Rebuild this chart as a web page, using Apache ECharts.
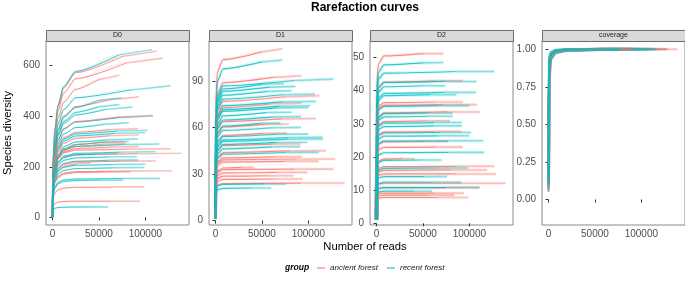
<!DOCTYPE html>
<html>
<head>
<meta charset="utf-8">
<script src="https://cdn.jsdelivr.net/npm/echarts@6/dist/echarts.min.js"></script>
<style>
  html, body { margin: 0; padding: 0; background: #fff; }
  #chart { width: 685px; height: 287px; }
</style>
</head>
<body>
<div id="chart"></div>
<script>
// ---- data ----
const groupNames = ['ancient forest', 'recent forest']
const panelNames = ['D0', 'D1', 'D2', 'coverage']

// 0 = ancient forest, 1 = recent forest
const sampleGroup = [
  0, 0, 0, 0, 0, 0, 0, 0, 0, 0, 0, 0, 0, 0, 0, 0, 0, 0,
  1, 1, 1, 1, 1, 1, 1, 1, 1, 1, 1, 1, 1, 1, 1, 1, 1, 1, 1, 1, 1,
]
// observed sample size (end of interpolated part) and extrapolation end
const readsObs = [
  50000, 62000, 76000, 80000, 92000, 86000, 85000, 28000, 72000, 62000, 54000, 52000, 62000, 63000, 75000, 66000, 57000, 63000,
  50000, 85000, 50000, 58000, 56000, 72000, 73000, 69000, 67000, 55000, 62000, 48000, 62000, 67000, 78000, 78000, 66000, 61000, 75000, 52000, 40000,
]
const readsEnd = [
  72000, 93000, 112000, 119000, 139000, 129000, 127000, 41000, 108000, 93000, 79000, 77000, 92000, 93000, 111000, 99000, 84000, 94000,
  72000, 127000, 74000, 86000, 82000, 107000, 108000, 102000, 100000, 82000, 92000, 70000, 92000, 100000, 115000, 116000, 99000, 91000, 111000, 76000, 60000,
]

const startDiversity = 1
// D0: values at 800, 2500, 6000, 12000, 25000 reads, then at readsObs and readsEnd
const d0Knots = [800, 2500, 6000, 12000, 25000]
const d0Values = [
  [214, 309, 393, 455, 506, 545, 562], [200, 276, 347, 400, 438, 466, 476], [237, 342, 440, 512, 572, 637, 657],
  [227, 328, 422, 491, 548, 611, 630], [139, 182, 218, 238, 248, 252, 253], [110, 140, 162, 175, 181, 183.5, 184],
  [149, 195, 233, 255, 266, 270, 271], [118, 155, 185, 202, 211, 214, 215], [181, 246, 306, 351, 379, 397, 403],
  [156, 212, 261, 293, 313, 323, 326], [140, 190, 234, 263, 280, 289, 292], [144, 195, 240, 270, 288, 297, 300],
  [168, 228, 280, 315, 336, 347, 350], [146, 193, 232, 258, 272, 278, 280], [123, 161, 192, 210, 219, 222, 223],
  [78, 96, 109, 116, 119, 120, 120], [108, 137, 158, 171, 177, 179.5, 180], [45, 54, 60, 63, 64, 64, 64],
  [192, 263, 330, 379, 415, 437, 446], [208, 291, 369, 426, 473, 504, 520], [198, 274, 345, 396, 434, 463, 472],
  [187, 257, 323, 371, 405, 427, 436], [172, 236, 292, 329, 355, 368, 374], [239, 345, 444, 517, 577, 643, 663],
  [180, 245, 305, 349, 377, 395, 401], [165, 224, 275, 310, 330, 341, 344], [161, 218, 268, 302, 322, 332, 335],
  [144, 195, 240, 270, 288, 297, 300], [149, 202, 248, 279, 298, 307, 310], [139, 181, 217, 237, 247, 251, 252],
  [125, 163, 195, 213, 222, 226, 227], [122, 155, 183, 198, 206, 209, 210], [151, 200, 241, 267, 281, 288, 290],
  [95, 120, 139, 148, 152, 154, 154], [114, 146, 171, 186, 193, 196, 197], [132, 173, 206, 226, 235, 239, 240],
  [138, 182, 218, 242, 253, 258, 260], [93, 115, 133, 142, 146, 147, 147], [31, 36, 39, 40, 41, 41, 41],
]
// D1 and D2: values at 300, 2000, 8000 reads, then at readsObs and readsEnd
const d12Knots = [300, 2000, 8000]
const d1Values = [
  [75, 96, 104, 109, 111], [64, 82, 89, 92.5, 93.6], [56, 71, 77, 80, 80.7], [33, 41, 44, 45, 45.2],
  [19, 23, 24, 24.3, 24.3], [30, 37, 39.3, 39.8, 39.8], [25, 31, 33, 33.3, 33.3], [26, 32, 34, 34.4, 34.4],
  [47, 59, 64, 65.7, 66], [52, 67, 73, 75.5, 75.8], [44, 56, 60.5, 62.2, 62.4], [40, 51, 55, 56.3, 56.5],
  [36, 45, 48.5, 49.4, 49.5], [31, 38, 40.6, 41.2, 41.3], [29, 35.5, 37.8, 38.3, 38.3], [24, 29, 30.8, 31.2, 31.2],
  [22.5, 27.2, 28.7, 29, 29], [21, 25.3, 26.6, 26.9, 26.9],
  [70, 90, 98, 102.5, 103.7], [62, 80, 87, 90.5, 91.4], [61, 78, 85, 88, 88.6], [60, 76, 83.5, 86.2, 86.7],
  [58, 74, 81, 83.5, 83.9], [56, 72, 78.5, 81.3, 81.8], [53, 68, 74.3, 76.7, 77], [51, 66, 71.7, 73.9, 74.2],
  [50, 65, 70.6, 72.8, 73.1], [48, 62, 67.7, 69.8, 70], [46, 60, 65, 67, 67.2], [44, 56.5, 61, 62.8, 63],
  [42, 54, 58.3, 60, 60.2], [40, 50.5, 54.3, 55.8, 55.9], [38, 48.5, 52.2, 53.7, 53.8], [38, 47.5, 51.2, 52.6, 52.7],
  [36.5, 45.5, 49.2, 50.5, 50.6], [34.5, 43, 46.4, 47.7, 47.8], [32, 40, 42.9, 44, 44.1], [18.5, 22.4, 23.4, 23.7, 23.7],
  [16.5, 20, 20.9, 21.1, 21.1],
]
const d2Values = [
  [41, 48, 50.5, 51.2, 51.2], [35, 41, 42.5, 43, 43], [27.5, 32, 33.3, 33.6, 33.6], [13.5, 15.5, 16, 16.1, 16.1],
  [10.5, 11.8, 12.1, 12.1, 12.1], [12.8, 14.5, 14.9, 14.9, 14.9], [14.5, 16.6, 17.1, 17.2, 17.2], [16, 18.8, 19.4, 19.5, 19.5],
  [29.5, 34.5, 35.6, 35.8, 35.8], [30, 35.3, 36.4, 36.6, 36.6], [25.5, 29.8, 30.7, 30.9, 30.9], [20.5, 23.8, 24.6, 24.7, 24.7],
  [23, 26.8, 27.5, 27.7, 27.7], [19, 22.2, 22.9, 23, 23], [9.3, 10.5, 10.8, 10.8, 10.8], [6.8, 7.6, 7.8, 7.8, 7.8],
  [7.4, 8.3, 8.5, 8.5, 8.5], [8, 8.9, 9.1, 9.1, 9.1],
  [39, 45.5, 47.8, 48.4, 48.5], [37, 43.5, 45.3, 45.8, 45.8], [34, 39.5, 41.2, 41.5, 41.5], [32, 37, 38.5, 38.8, 38.8],
  [27.5, 32, 33.1, 33.3, 33.3], [32.5, 37.8, 39.2, 39.5, 39.5], [35, 40.8, 42.5, 42.8, 42.8], [22.7, 26.5, 27.3, 27.4, 27.4],
  [22, 25.5, 26.3, 26.4, 26.4], [26.8, 31.1, 32.1, 32.3, 32.3], [25.2, 29.3, 30.2, 30.4, 30.4], [16, 18.4, 19, 19.1, 19.1],
  [24.3, 28.3, 29.2, 29.4, 29.4], [29.2, 34.2, 35.3, 35.5, 35.5], [20.6, 24, 24.8, 24.9, 24.9], [17.8, 20.6, 21.3, 21.4, 21.4],
  [14, 16.1, 16.6, 16.7, 16.7], [10.6, 12, 12.4, 12.4, 12.4], [9.3, 10.5, 10.8, 10.8, 10.8], [12, 13.7, 14.1, 14.1, 14.1],
  [8.4, 9.4, 9.7, 9.7, 9.7],
]
// coverage: values at 1, 500, 2500, 8000, 20000 reads, then at readsObs and readsEnd
const covKnots = [1, 500, 2500, 8000, 20000]
const covValues = [
  [0.06, 0.8, 0.94, 0.98, 0.993, 1, 1], [0.08, 0.83, 0.95, 0.985, 0.995, 1, 1], [0.05, 0.78, 0.93, 0.975, 0.99, 1, 1],
  [0.06, 0.79, 0.935, 0.978, 0.992, 1, 1], [0.12, 0.88, 0.965, 0.99, 0.997, 1, 1], [0.15, 0.9, 0.97, 0.992, 0.998, 1, 1],
  [0.11, 0.87, 0.96, 0.988, 0.996, 1, 1], [0.12, 0.88, 0.96, 0.988, 0.996, 1, 1], [0.07, 0.82, 0.945, 0.982, 0.994, 1, 1],
  [0.09, 0.85, 0.955, 0.985, 0.995, 1, 1], [0.1, 0.86, 0.958, 0.987, 0.996, 1, 1], [0.1, 0.86, 0.957, 0.987, 0.996, 1, 1],
  [0.08, 0.84, 0.952, 0.984, 0.995, 1, 1], [0.1, 0.87, 0.96, 0.988, 0.996, 1, 1], [0.13, 0.89, 0.965, 0.99, 0.997, 1, 1],
  [0.2, 0.92, 0.975, 0.994, 0.998, 1, 1], [0.16, 0.91, 0.972, 0.993, 0.998, 1, 1], [0.25, 0.94, 0.98, 0.995, 0.999, 1, 1],
  [0.07, 0.82, 0.945, 0.982, 0.994, 1, 1], [0.06, 0.8, 0.94, 0.98, 0.993, 1, 1], [0.07, 0.81, 0.942, 0.98, 0.993, 1, 1],
  [0.07, 0.82, 0.945, 0.982, 0.994, 1, 1], [0.08, 0.84, 0.95, 0.984, 0.995, 1, 1], [0.05, 0.77, 0.93, 0.975, 0.99, 1, 1],
  [0.07, 0.82, 0.946, 0.982, 0.994, 1, 1], [0.09, 0.85, 0.953, 0.985, 0.995, 1, 1], [0.09, 0.85, 0.954, 0.985, 0.995, 1, 1],
  [0.1, 0.86, 0.957, 0.987, 0.996, 1, 1], [0.1, 0.86, 0.956, 0.986, 0.996, 1, 1], [0.11, 0.87, 0.96, 0.988, 0.996, 1, 1],
  [0.12, 0.88, 0.962, 0.989, 0.997, 1, 1], [0.12, 0.88, 0.963, 0.99, 0.997, 1, 1], [0.1, 0.86, 0.957, 0.987, 0.996, 1, 1],
  [0.18, 0.92, 0.974, 0.994, 0.998, 1, 1], [0.14, 0.9, 0.968, 0.991, 0.997, 1, 1], [0.12, 0.88, 0.962, 0.989, 0.997, 1, 1],
  [0.11, 0.87, 0.96, 0.988, 0.996, 1, 1], [0.18, 0.92, 0.975, 0.994, 0.998, 1, 1], [0.3, 0.95, 0.985, 0.997, 0.999, 1, 1],
]

// axis ticks
const xTicks = [0, 50000, 100000]
const yTicks = [
  [0, 200, 400, 600],
  [0, 30, 60, 90],
  [0, 10, 20, 30, 40, 50],
  [0, 0.25, 0.5, 0.75, 1],
]

// ---- layout / style ----
const colors = ['#F8766D', '#00BFC4']
const font = '"Liberation Sans", Arial, sans-serif'
const panelLeft = [46, 209, 370, 542]
const panelTop = 41
const panelW = 143
const panelH = 184
const stripH = 11
const xRange = [-7000, 147000]
const yMin = [-30, -2.8, -0.5, -0.17]
const yMax = [697, 116, 55, 1.055]
const ribbonW = [2, 3, 3.5, 3]
const lineW = [1, 1.2, 1.2, 1]

const chart = echarts.init(document.getElementById('chart'), null, { renderer: 'canvas' })

function curve(p, i) {
  let pts, vals
  if (p === 3) {
    vals = covValues[i]
    pts = covKnots.map((k, j) => [k, vals[j]])
  } else {
    const knots = p === 0 ? d0Knots : d12Knots
    vals = [d0Values, d1Values, d2Values][p][i]
    pts = [[1, startDiversity]].concat(knots.map((k, j) => [k, vals[j]]))
  }
  const n = vals.length
  const obs = [readsObs[i], vals[n - 2]]
  return { solid: pts.concat([obs]), tail: [obs, [readsEnd[i], vals[n - 1]]] }
}

const grids = [], xAxes = [], yAxes = [], series = [], graphics = []

// interleave groups so neither colour always sits on top
const nA = sampleGroup.filter((g) => g === 0).length
const order = []
for (let k = 0; k < Math.max(nA, sampleGroup.length - nA); k++) {
  if (k < nA) order.push(k)
  if (nA + k < sampleGroup.length) order.push(nA + k)
}

panelNames.forEach((name, p) => {
  grids.push({
    left: panelLeft[p], top: panelTop, width: panelW, height: panelH,
    show: true, borderColor: '#8a8a8a', borderWidth: 1, backgroundColor: '#fff',
  })
  xAxes.push({
    type: 'value', gridIndex: p, min: xRange[0], max: xRange[1],
    axisLine: { show: false }, splitLine: { show: false },
    axisTick: { show: true, length: 3, customValues: xTicks, lineStyle: { color: '#333' } },
    axisLabel: { customValues: xTicks, color: '#4d4d4d', fontSize: 10, fontFamily: font, margin: 4, formatter: (v) => String(v) },
  })
  yAxes.push({
    type: 'value', gridIndex: p, min: yMin[p], max: yMax[p],
    axisLine: { show: false }, splitLine: { show: false },
    axisTick: { show: true, length: 3, customValues: yTicks[p], lineStyle: { color: '#333' } },
    axisLabel: {
      customValues: yTicks[p], color: '#4d4d4d', fontSize: 10, fontFamily: font, margin: 6,
      formatter: (v) => (p === 3 ? v.toFixed(2) : String(v)),
    },
  })

  const base = { type: 'line', xAxisIndex: p, yAxisIndex: p, showSymbol: false, silent: true, smooth: 0.25, smoothMonotone: 'x', animation: false }
  // faint band (confidence ribbon look)
  order.forEach((i) => {
    const c = curve(p, i)
    series.push(Object.assign({}, base, {
      name: groupNames[sampleGroup[i]], z: 1,
      data: c.solid.concat(c.tail.slice(1)),
      lineStyle: { color: colors[sampleGroup[i]], width: ribbonW[p], opacity: 0.12 },
    }))
  })
  // extrapolated tails
  order.forEach((i) => {
    const c = curve(p, i)
    series.push(Object.assign({}, base, {
      name: groupNames[sampleGroup[i]], z: 2, smooth: false, data: c.tail,
      lineStyle: { color: colors[sampleGroup[i]], width: lineW[p] + 0.4, opacity: 0.4 },
    }))
  })
  // interpolated part
  order.forEach((i) => {
    const c = curve(p, i)
    series.push(Object.assign({}, base, {
      name: groupNames[sampleGroup[i]], z: 3, data: c.solid,
      lineStyle: { color: colors[sampleGroup[i]], width: lineW[p], opacity: 0.8 },
    }))
  })

  // facet strip
  graphics.push({
    type: 'rect', left: panelLeft[p], top: panelTop - stripH, silent: true,
    shape: { width: panelW, height: stripH },
    style: { fill: '#d9d9d9', stroke: '#6b6b6b', lineWidth: 1 },
  })
  graphics.push({
    type: 'text', x: panelLeft[p] + panelW / 2, y: panelTop - stripH / 2, silent: true,
    style: { text: name, font: '7px ' + font, fill: '#1a1a1a', textAlign: 'center', textVerticalAlign: 'middle' },
  })
})

// titles
graphics.push({
  type: 'text', x: 365, y: 8, silent: true,
  style: { text: 'Rarefaction curves', font: 'bold 12px ' + font, fill: '#000', textAlign: 'center', textVerticalAlign: 'middle' },
})
graphics.push({
  type: 'text', x: 365, y: 247, silent: true,
  style: { text: 'Number of reads', font: '11.2px ' + font, fill: '#000', textAlign: 'center', textVerticalAlign: 'middle' },
})
graphics.push({
  type: 'text', x: 8, y: 133, rotation: Math.PI / 2, silent: true,
  style: { text: 'Species diversity', font: '11.2px ' + font, fill: '#000', textAlign: 'center', textVerticalAlign: 'middle' },
})

// legend
graphics.push({
  type: 'text', x: 285, y: 268, silent: true,
  style: { text: 'group', font: 'italic bold 8.5px ' + font, fill: '#000', textVerticalAlign: 'middle' },
})
const legendX = [317, 387]
groupNames.forEach((g, k) => {
  graphics.push({
    type: 'rect', x: legendX[k], y: 267.3, silent: true,
    shape: { width: 8, height: 1.4 }, style: { fill: colors[k], opacity: 0.8 },
  })
  graphics.push({
    type: 'text', x: legendX[k] + 13, y: 268, silent: true,
    style: { text: g, font: 'italic 8px ' + font, fill: '#1a1a1a', textVerticalAlign: 'middle' },
  })
})

chart.setOption({
  animation: false,
  backgroundColor: '#fff',
  grid: grids,
  xAxis: xAxes,
  yAxis: yAxes,
  series,
  graphic: graphics,
})
</script>
</body>
</html>
